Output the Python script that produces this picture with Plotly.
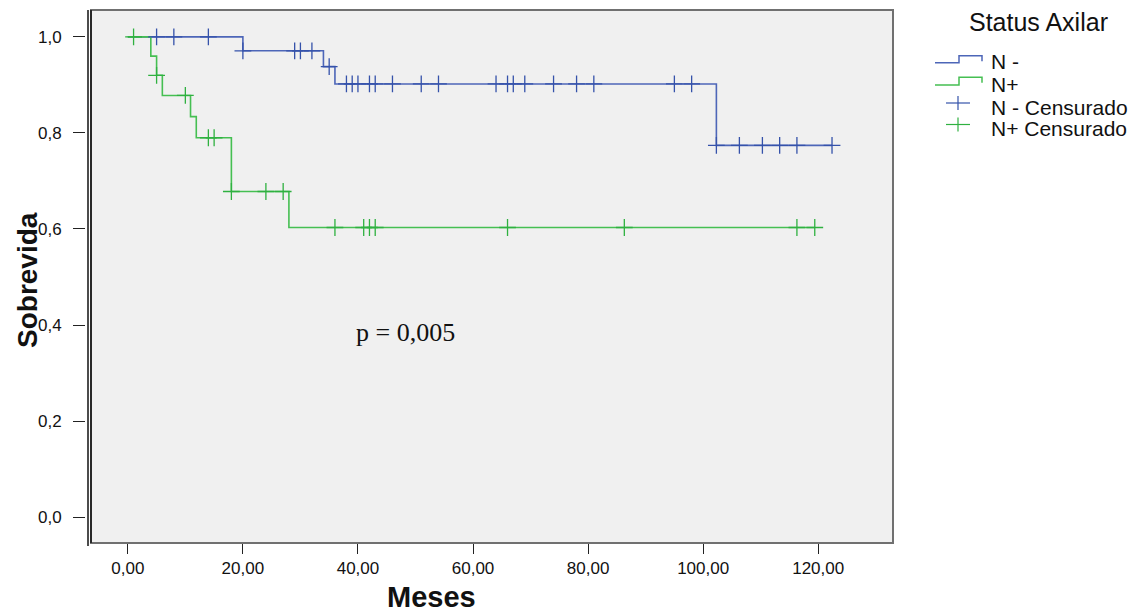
import plotly.graph_objects as go

# Kaplan-Meier step curves
neg_times = [0, 20, 34, 36, 102.3, 122.4]
neg_surv = [1.0, 0.971, 0.938, 0.902, 0.774, 0.774]
pos_times = [0, 4, 5, 6, 10.9, 11.9, 18, 28, 119.4]
pos_surv = [1.0, 0.96, 0.92, 0.878, 0.834, 0.79, 0.678, 0.603, 0.603]

# Censored observations
neg_cens_t = [5, 8, 14, 20, 29, 30, 32, 35, 38, 39, 40, 42, 43, 46, 51, 54, 64, 66, 67, 69, 74,
              78, 81, 95, 98, 102.3, 106.3, 110.3, 113.3, 116.3, 122.4]
neg_cens_s = [1.0, 1.0, 1.0, 0.971, 0.971, 0.971, 0.971, 0.938] + [0.902] * 17 + [0.774] * 6
pos_cens_t = [1, 5, 10, 14, 15, 18, 24, 27, 36, 41, 42, 43, 66, 86.3, 116.3, 119.4]
pos_cens_s = [1.0, 0.92, 0.878, 0.79, 0.79, 0.678, 0.678, 0.678] + [0.603] * 8

x_ticks = [0, 20, 40, 60, 80, 100, 120]
x_labels = ["0,00", "20,00", "40,00", "60,00", "80,00", "100,00", "120,00"]
y_ticks = [0, 0.2, 0.4, 0.6, 0.8, 1.0]
y_labels = ["0,0", "0,2", "0,4", "0,6", "0,8", "1,0"]

legend_title = "Status Axilar"
legend_names = ["N -", "N+", "N - Censurado", "N+ Censurado"]

BLUE = "#4d66b8"
GREEN = "#45bf52"
BLUE_M = "#3552aa"
GREEN_M = "#2fb140"

# figure geometry (page has an 8px body margin)
W, H = 1131, 605
L, R, T, B = 77, 246, 2, 70
PW = W - L - R
PH = H - T - B


def px(x):
    return (x - 8 - L) / PW


def py(y):
    return (H - B - (y - 8)) / PH


fig = go.Figure()
fig.add_trace(go.Scatter(x=neg_times, y=neg_surv, mode="lines", line_shape="hv",
                         line=dict(color=BLUE, width=1.6), name=legend_names[0]))
fig.add_trace(go.Scatter(x=pos_times, y=pos_surv, mode="lines", line_shape="hv",
                         line=dict(color=GREEN, width=1.6), name=legend_names[1]))
fig.add_trace(go.Scatter(x=neg_cens_t, y=neg_cens_s, mode="markers",
                         marker=dict(symbol="cross-thin", size=12, line=dict(color=BLUE_M, width=1.3)),
                         name=legend_names[2]))
fig.add_trace(go.Scatter(x=pos_cens_t, y=pos_cens_s, mode="markers",
                         marker=dict(symbol="cross-thin", size=12, line=dict(color=GREEN_M, width=1.3)),
                         name=legend_names[3]))

shapes = [
    dict(type="rect", xref="x domain", yref="y domain", x0=0, x1=1, y0=0, y1=1,
         line=dict(color="#707070", width=2), fillcolor="rgba(0,0,0,0)"),
    dict(type="line", xref="x domain", yref="y domain", x0=0, x1=0, y0=0, y1=1,
         line=dict(color="#111", width=1.5)),
    dict(type="line", xref="paper", yref="paper", x0=px(88), x1=px(88),
         y0=py(546), y1=py(10), line=dict(color="#111", width=1.5)),
]

# manual legend icons (page coordinates)
for ylo, yhi, col in [(62.7, 55.7, BLUE), (85, 77.3, GREEN)]:
    path = (f"M {px(935)} {py(ylo)} L {px(959)} {py(ylo)} L {px(959)} {py(yhi)} "
            f"L {px(982)} {py(yhi)} L {px(982)} {py(yhi + 5.5)}")
    shapes.append(dict(type="path", xref="paper", yref="paper", path=path,
                       line=dict(color=col, width=1.5)))
for yc, col in [(103, BLUE_M), (124.5, GREEN_M)]:
    shapes.append(dict(type="line", xref="paper", yref="paper", x0=px(946), x1=px(970),
                       y0=py(yc), y1=py(yc), line=dict(color=col, width=1.2)))
    shapes.append(dict(type="line", xref="paper", yref="paper", x0=px(958), x1=px(958),
                       y0=py(yc - 7), y1=py(yc + 7), line=dict(color=col, width=1.2)))

annotations = [
    dict(text="p = 0,005", x=48.3, y=0.385, xref="x", yref="y", showarrow=False,
         font=dict(family="Liberation Serif, Times New Roman", size=26, color="#111")),
    dict(text="<b>Meses</b>", x=px(431), y=py(597), xref="paper", yref="paper",
         showarrow=False, xanchor="center", yanchor="middle", font=dict(size=29, color="#111")),
    dict(text="<b>Sobrevida</b>", x=px(27), y=py(280), xref="paper", yref="paper",
         showarrow=False, textangle=-90, xanchor="center", yanchor="middle", font=dict(size=28, color="#111")),
    dict(text=legend_title, x=px(1038), y=py(22), xref="paper", yref="paper",
         showarrow=False, xanchor="center", yanchor="middle", font=dict(size=25, color="#111")),
]
for name, yc in zip(legend_names, [62, 85, 107, 128]):
    annotations.append(dict(text=name, x=px(989), y=py(yc), xref="paper", yref="paper",
                            showarrow=False, xanchor="left", yanchor="middle",
                            font=dict(size=21, color="#111")))

fig.update_layout(
    width=W, height=H,
    margin=dict(l=L, r=R, t=T, b=B),
    paper_bgcolor="white", plot_bgcolor="#f0f0f0",
    font=dict(family="Arial, Liberation Sans", color="#111"),
    showlegend=False,
    xaxis=dict(domain=[(91 - 8 - L) / PW, 1], range=[-6.4, 133.0], tickvals=x_ticks, ticktext=x_labels,
               ticks="outside", ticklen=10, tickcolor="#222", tickwidth=1,
               showgrid=False, zeroline=False, showline=False,
               tickfont=dict(size=17, color="#111")),
    yaxis=dict(anchor="free", position=0, range=[-0.054, 1.056], tickvals=y_ticks, ticktext=y_labels,
               ticks="outside", ticklen=12, tickcolor="#222", tickwidth=1,
               showgrid=False, zeroline=False, showline=False,
               tickfont=dict(size=17, color="#111"), ticklabelstandoff=8),
    shapes=shapes,
    annotations=annotations,
)

fig.write_html("out.html")
